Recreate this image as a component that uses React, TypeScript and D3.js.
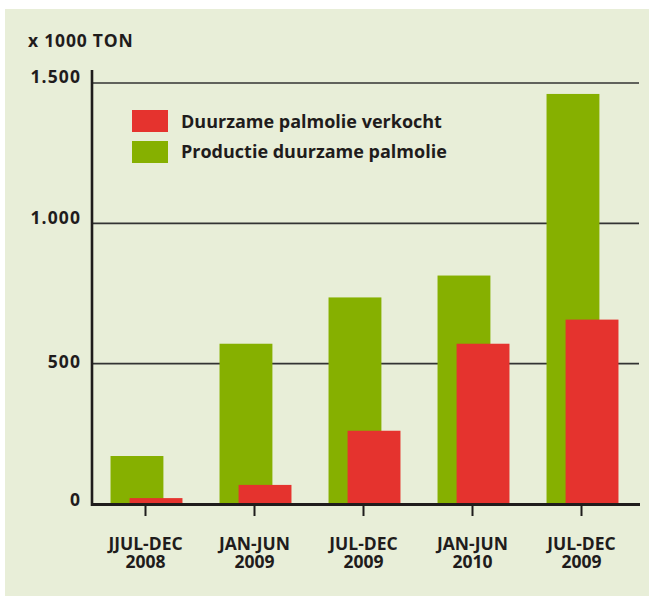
import React from "react";
import * as d3 from "d3";

const categories = ["JJUL-DEC\n2008", "JAN-JUN\n2009", "JUL-DEC\n2009", "JAN-JUN\n2010", "JUL-DEC\n2009"];
const productie = [171, 571, 736, 814, 1461];
const verkocht = [21, 68, 261, 571, 657];
const yTicks = [0, 500, 1000, 1500];
const yTickLabels = ["0", "500", "1.000", "1.500"];
const legendLabels = ["Duurzame palmolie verkocht", "Productie duurzame palmolie"];

const W = 649;
const H = 597;
const RED = "#e5332e";
const GREEN = "#86b000";
const BG = "#e8eed8";
const DARK = "#1f1c1c";
const FONT = "'Open Sans', sans-serif";

export default function App() {
  const idx = categories.map((_, i) => String(i));
  const x = d3.scaleBand<string>().domain(idx).range([92, 637]).paddingInner(0.34).paddingOuter(0.17);
  const y = d3.scaleLinear().domain([0, 1500]).range([504, 83]);
  const bw = x.bandwidth();
  const barW = bw * 0.735;
  const redOff = bw - barW;
  const labelDy: Record<number, number> = { 0: 2, 500: 4, 1000: 1, 1500: 0 };

  return (
    <svg width={W} height={H} style={{ position: "absolute", left: 0, top: 0 }}>
      <rect x={0} y={0} width={W} height={H} fill="#fff" />
      <rect x={5} y={9} width={W - 5} height={587} fill={BG} />
      <text x={28} y={47} fontFamily={FONT} fontWeight={700} fontSize={17.5} fill={DARK} letterSpacing={0.8}>
        x 1000 TON
      </text>
      {yTicks.slice(1).map((t) => (
        <line key={t} x1={92} x2={639} y1={y(t)} y2={y(t)} stroke="#333" strokeWidth={1.6} />
      ))}
      {yTicks.map((t, i) => (
        <text key={t} x={81} y={y(t) + labelDy[t]} textAnchor="end" fontFamily={FONT} fontWeight={700} fontSize={17.5} fill={DARK} letterSpacing={1.1}>
          {yTickLabels[i]}
        </text>
      ))}
      {idx.map((c, i) => (
        <g key={c}>
          <rect x={x(c)!} y={y(productie[i])} width={barW} height={y(0) - y(productie[i])} fill={GREEN} />
          <rect x={x(c)! + redOff} y={y(verkocht[i])} width={barW} height={y(0) - y(verkocht[i])} fill={RED} />
        </g>
      ))}
      <line x1={92} x2={92} y1={70} y2={506} stroke={DARK} strokeWidth={2.6} />
      <line x1={91} x2={640} y1={504.5} y2={504.5} stroke={DARK} strokeWidth={3} />
      {idx.map((c, i) => {
        const cx = x(c)! + bw / 2 - 1;
        const lines = categories[i].split("\n");
        return (
          <g key={c}>
            <line x1={cx} x2={cx} y1={505} y2={516} stroke={DARK} strokeWidth={2} />
            {lines.map((l, j) => (
              <text key={j} x={cx} y={550 + j * 18} textAnchor="middle" fontFamily={FONT} fontWeight={700} fontSize={17.5} fill={DARK}>
                {l}
              </text>
            ))}
          </g>
        );
      })}
      {legendLabels.map((l, i) => (
        <g key={l}>
          <rect x={132} y={110 + i * 31} width={36} height={22} fill={i === 0 ? RED : GREEN} />
          <text x={181} y={128 + i * 29.5} fontFamily={FONT} fontWeight={700} fontSize={18} fill={DARK}>
            {l}
          </text>
        </g>
      ))}
    </svg>
  );
}
